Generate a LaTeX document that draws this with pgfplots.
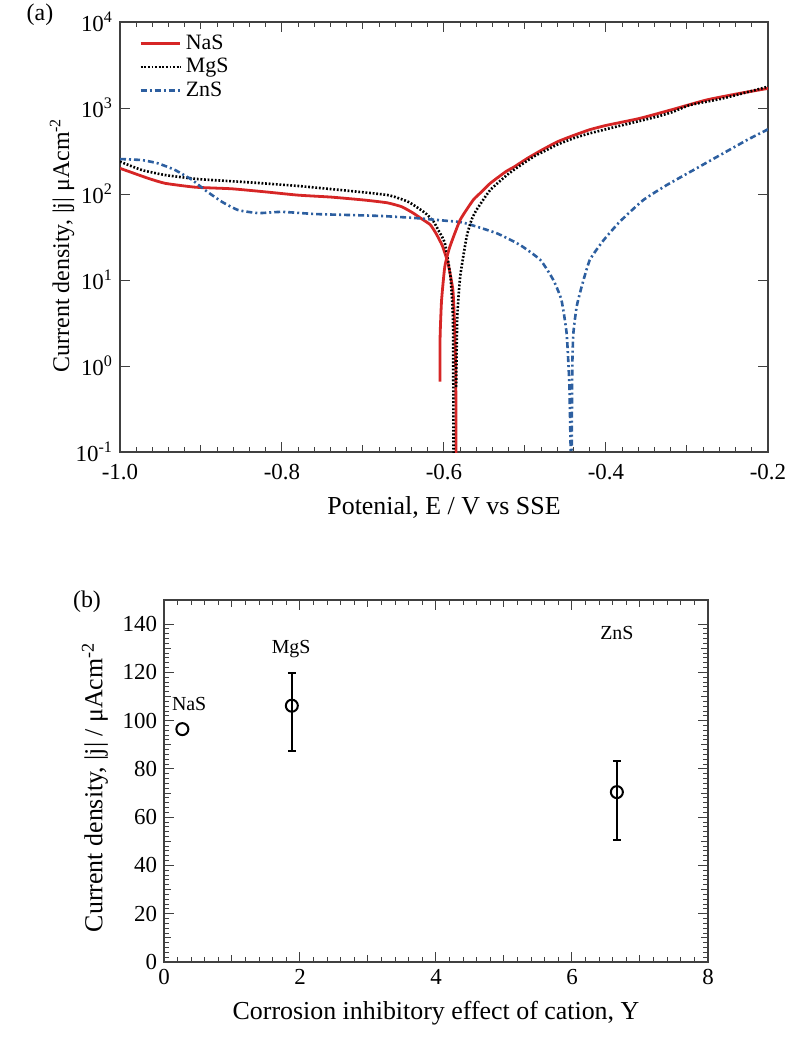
\documentclass[border=0pt]{standalone}
\usepackage{pgfplots}
\pgfplotsset{compat=1.18}
\usepackage{fontspec}
\setmainfont{Liberation Serif}
\definecolor{nared}{RGB}{214,38,38}
\definecolor{znblue}{RGB}{45,95,160}
\begin{document}
\begin{tikzpicture}
\useasboundingbox (0,0) rectangle (400bp,-519.5bp);
\pgfplotsset{
  every axis/.append style={
    scale only axis,
    axis line style={black!75, line width=0.6bp},
    tick style={black!75, line width=0.5bp},
    tick align=inside,
    major tick length=4.8bp,
    minor tick length=2.3bp,
    /pgf/number format/assume math mode=true,
    tick label style={font=\fontsize{11.5}{13}\selectfont},
    label style={font=\fontsize{13}{15}\selectfont},
  }
}
% ---------- (a) ----------
\begin{axis}[
  at={(60bp,-226bp)}, anchor=south west,
  width=324bp, height=215bp,
  xmin=-1.0, xmax=-0.2,
  ymode=log, log basis y=10,
  ymin=0.1, ymax=10000,
  xtick={-1.0,-0.8,-0.6,-0.4,-0.2},
  minor x tick num=9,
  extra x ticks={-0.9,-0.7,-0.5,-0.3},
  extra x tick labels={},
  extra x tick style={major tick length=3.3bp},
  xticklabel style={/pgf/number format/.cd, fixed, fixed zerofill, precision=1},
  xticklabel shift=2.5bp,
  ytick={0.1,1,10,100,1000,10000},
  yticklabel={10\textsuperscript{\pgfmathparse{int(round(\tick))}\pgfmathresult}},
  xlabel={Potenial, E / V vs SSE},
  ylabel={Current density, |j| μAcm\textsuperscript{-2}},
  xlabel style={at={(axis description cs:0.5,-0.13)}, anchor=center},
  ylabel style={at={(axis description cs:-0.0895,0.481)}, anchor=center, font=\fontsize{12}{14}\selectfont},
  legend style={draw=none, fill=none, at={(axis description cs:0.02,0.99)}, anchor=north west,
    font=\fontsize{11}{13}\selectfont, row sep=-1bp},
  legend cell align=left,
  legend image code/.code={\draw[#1] (0cm,0cm) -- (0.7cm,0cm);},
  clip=true,
]
\addplot[nared, line width=1.4bp, line join=round, smooth, tension=0.3] coordinates {
(-1.0,199) (-0.965,152) (-0.944,133) (-0.907,120) (-0.862,115) (-0.821,106)
(-0.780,97) (-0.739,92) (-0.698,85) (-0.670,79) (-0.652,71) (-0.638,60) (-0.627,51)
(-0.617,44) (-0.610,35) (-0.602,25) (-0.595,15.6) (-0.589,7.65) (-0.587,3.14)
(-0.5856,0.98) (-0.5852,0.257) (-0.585,0.05)
};
\addlegendentry{NaS}
\addplot[black, line width=1.3bp, dash pattern=on 0.9bp off 0.9bp, smooth, tension=0.3] coordinates {
(-1.0,238) (-0.973,190) (-0.944,166) (-0.903,149) (-0.842,137) (-0.780,124)
(-0.718,109) (-0.669,97) (-0.644,81) (-0.623,60) (-0.613,48) (-0.607,38)
(-0.599,27) (-0.592,11) (-0.589,3.7) (-0.5886,0.98) (-0.5882,0.105) (-0.588,0.05)
};
\addlegendentry{MgS}
\addplot[znblue, line width=1.3bp, dash pattern=on 3bp off 1.5bp on 1bp off 1.5bp, smooth, tension=0.3] coordinates {
(-1.0,255) (-0.973,248) (-0.953,227) (-0.932,190) (-0.911,146) (-0.895,111)
(-0.874,81) (-0.854,65) (-0.829,60) (-0.800,62) (-0.759,58.5) (-0.718,57)
(-0.677,55.5) (-0.636,52.6) (-0.599,49) (-0.576,46.4) (-0.535,35) (-0.506,25.5)
(-0.481,17.1) (-0.465,10) (-0.455,5.85) (-0.4486,2.4) (-0.4453,0.63) (-0.4436,0.105)
(-0.4430,0.05) (-0.4424,0.1) (-0.4416,0.98) (-0.4403,2.4) (-0.4362,4.9) (-0.430,8.4)
(-0.420,17.1) (-0.403,29) (-0.383,47.6) (-0.354,85) (-0.325,127) (-0.292,190)
(-0.259,284) (-0.226,424) (-0.2017,555) (-0.2,570)
};
\addlegendentry{ZnS}
\addplot[nared, line width=1.4bp, line join=round, forget plot, smooth, tension=0.3] coordinates {
(-0.6049,0.66) (-0.6048,2.19) (-0.603,5.8) (-0.599,14.3) (-0.593,24) (-0.580,50)
(-0.564,85) (-0.556,101) (-0.543,133) (-0.523,184) (-0.514,205) (-0.497,260)
(-0.481,318) (-0.460,405) (-0.440,480) (-0.420,560) (-0.399,630) (-0.358,759)
(-0.317,966) (-0.276,1240) (-0.235,1480) (-0.2,1690)
};
\addplot[black, line width=1.3bp, dash pattern=on 0.9bp off 0.9bp, forget plot, smooth, tension=0.3] coordinates {
(-0.5850,0.57) (-0.5836,3.7) (-0.580,11) (-0.572,32) (-0.566,50) (-0.560,65)
(-0.543,111) (-0.521,170) (-0.502,227) (-0.487,280) (-0.473,325) (-0.461,372) (-0.440,445) (-0.420,508)
(-0.379,634) (-0.337,793) (-0.317,905) (-0.296,1084) (-0.255,1297) (-0.2,1770)
};
\end{axis}
% ---------- (b) ----------
\begin{axis}[
  at={(82bp,-481bp)}, anchor=south west,
  width=272bp, height=181bp,
  xmin=0, xmax=8, ymin=0, ymax=150,
  xtick={0,2,4,6,8},
  ytick={0,20,...,140},
  minor x tick num=9,
  minor y tick num=9,
  extra x ticks={1,3,5,7},
  extra x tick labels={},
  extra y ticks={10,30,50,70,90,110,130},
  extra y tick labels={},
  extra tick style={major tick length=3.3bp},
  xlabel={Corrosion inhibitory effect of cation, Y},
  ylabel={Current density, |j| / μAcm\textsuperscript{-2}},
  xlabel style={at={(axis description cs:0.5,-0.141)}, anchor=center},
  ylabel style={at={(axis description cs:-0.127,0.483)}, anchor=center},
]
\addplot[black, line width=1bp, only marks, mark=o, mark size=3bp,
  mark options={fill=white, draw=black, line width=1bp}] coordinates {(0.27,96.5)};
\addplot[black, line width=1bp, only marks, mark=o, mark size=3bp,
  mark options={fill=white, draw=black, line width=1bp},
  error bars/.cd, y dir=both, y explicit,
  error bar style={line width=1bp, black},
  error mark options={rotate=90, mark size=2bp, line width=1bp, black}]
  coordinates {
  (1.88,106.2) += (0,13.5) -= (0,18.7)
  (6.66,70.4) += (0,12.8) -= (0,19.9)
  };
\node[font=\fontsize{10}{12}\selectfont] at (axis cs:0.37,107) {NaS};
\node[font=\fontsize{10}{12}\selectfont] at (axis cs:1.87,129.6) {MgS};
\node[font=\fontsize{10}{12}\selectfont] at (axis cs:6.66,136.3) {ZnS};
\end{axis}
\node[font=\fontsize{12}{14}\selectfont] at (20bp,-7.5bp) {(a)};
\node[font=\fontsize{12}{14}\selectfont] at (43.5bp,-301bp) {(b)};
\end{tikzpicture}
\end{document}
